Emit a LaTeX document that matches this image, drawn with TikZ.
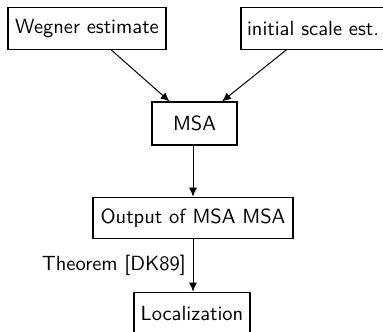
\documentclass[tikz,border=0pt]{standalone}
\usepackage{fontspec}
\usetikzlibrary{arrows.meta}
\begin{document}
\begin{tikzpicture}[x=0.5pt,y=-0.5pt,
  txt/.style={font=\sffamily\fontsize{10.25}{12}\selectfont},
  box/.style={draw, line width=0.55pt, inner sep=0pt, minimum height=20.75pt, txt},
  arr/.style={-{Latex[length=4.5pt,width=4pt]}, line width=0.5pt}]
\useasboundingbox (0,0) rectangle (383,331);
\node[box, minimum width=79pt] (w) at (87,28.5) {Wegner estimate};
\node[box, minimum width=72pt] (i) at (313,28.5) {initial scale est.};
\node[box, minimum width=42.5pt, minimum height=21.5pt] (m) at (194.5,123.5) {MSA};
\node[box, minimum width=100pt] (o) at (193,218) {Output of MSA MSA};
\node[box, minimum width=58pt] (l) at (192,313) {Localization};
\draw[arr] (w) -- (m);
\draw[arr] (i) -- (m);
\draw[arr] (m.south -| o.north) -- (o.north);
\draw[arr] (o.south) -- (o.south |- l.north) node[midway, left, txt] (t) {Theorem [DK89]};
\end{tikzpicture}
\end{document}
